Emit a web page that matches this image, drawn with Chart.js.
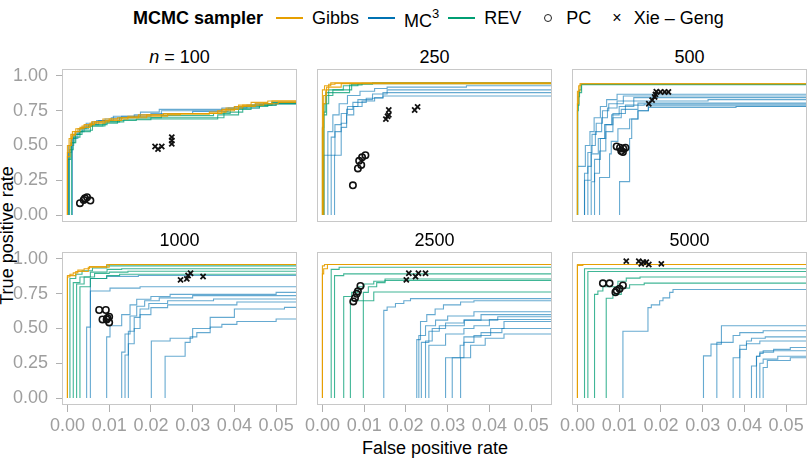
<!DOCTYPE html>
<html>
<head>
<meta charset="utf-8">
<script src="https://cdn.jsdelivr.net/npm/chart.js@4/dist/chart.umd.min.js"></script>
<style>
  body { margin: 0; background: #fff; width: 808px; height: 466px; overflow: hidden; position: relative;
         font-family: "Liberation Sans", Arial, sans-serif; }
  canvas { position: absolute; }
  .lbl { position: absolute; font-size: 18px; color: #000; white-space: nowrap; }
  .strip { position: absolute; font-size: 18px; text-align: center; width: 235px; }
  #legend { position: absolute; left: 133px; top: 6px; height: 24px; display: flex; align-items: center; font-size: 18px; white-space: nowrap; }
  #legend b { margin-right: 13px; }
  .key { display: inline-block; width: 27px; height: 2.5px; margin-right: 9px; }
  .item { margin-right: 9px; display: inline-flex; align-items: center; }
</style>
</head>
<body>
<div id="legend">
  <b>MCMC sampler</b>
  <span class="item"><span class="key" style="background:#E69F00"></span>Gibbs</span>
  <span class="item"><span class="key" style="background:#0072B2"></span><span style="position:relative;top:3px">MC</span><span style="position:relative;top:-5px;font-size:13px">3</span></span>
  <span class="item"><span class="key" style="background:#009E73"></span>REV</span>
  <span class="item" style="margin-left:14px"><span style="display:inline-block;width:6px;height:6px;border:1.5px solid #222;border-radius:50%;margin-right:14px"></span>PC</span>
  <span class="item" style="margin-left:12px"><span style="margin-right:12px;font-size:16px">×</span>Xie – Geng</span>
</div>
<div class="lbl" style="left:0;top:438px;width:870px;text-align:center">False positive rate</div>
<div class="lbl" style="left:-78px;top:225px;width:170px;text-align:center;transform:rotate(-90deg)">True positive rate</div>

<script>
// panel titles and axis ticks
const panelTitles = ['n = 100', '250', '500', '1000', '2500', '5000'];
const xTicks = [0, 0.01, 0.02, 0.03, 0.04, 0.05];
const yTicks = [0, 0.25, 0.5, 0.75, 1];

// ROC step curves, one list of curves per panel; each point = [fpr, tpr] where the curve rises
const gibbsCurves = [
  [[[0,0.42],[0.0006,0.5],[0.001,0.57],[0.0018,0.6],[0.003,0.63],[0.0054,0.66],[0.009,0.68],[0.013,0.7],[0.017,0.72],[0.023,0.73],[0.036,0.75],[0.04,0.78],[0.045,0.8],[0.049,0.82]],
   [[0,0.45],[0.0004,0.55],[0.0012,0.6],[0.0025,0.62],[0.004,0.65],[0.0065,0.67],[0.01,0.69],[0.0145,0.71],[0.024,0.725],[0.034,0.74],[0.038,0.77],[0.042,0.79],[0.047,0.8],[0.0505,0.81]],
   [[0,0.5],[0.0008,0.58],[0.002,0.62],[0.0035,0.64],[0.0058,0.67],[0.0085,0.69],[0.012,0.7],[0.019,0.72],[0.027,0.73],[0.037,0.76],[0.041,0.79],[0.044,0.81],[0.048,0.82]]],
  [[[0,0.62],[0.0002,0.8],[0.0008,0.9],[0.0015,0.94],[0.003,0.948]],
   [[0,0.9],[0.0005,0.93],[0.002,0.95]],
   [[0.0003,0.86],[0.001,0.92],[0.0045,0.945]]],
  [[[0,0.89],[0.0006,0.944]],
   [[0,0.8],[0.0003,0.93],[0.0008,0.944]]],
  [[[0,0.87],[0.0006,0.89],[0.0014,0.9],[0.0025,0.92],[0.004,0.93],[0.0053,0.945],[0.0094,0.96]],
   [[0,0.88],[0.002,0.91],[0.005,0.94],[0.01,0.96]]],
  [[[0,0.893],[0.0003,0.93],[0.0012,0.96]],
   [[0,0.95],[0.0005,0.96]]],
  [[[0,0.953],[0.0013,0.96]],
   [[0,0.96]]]
];

const mc3Curves = [
  [[[0.0002,0.45],[0.001,0.55],[0.002,0.6],[0.0035,0.63],[0.005,0.65],[0.0075,0.68],[0.011,0.71],[0.0175,0.74],[0.022,0.76],[0.04,0.78],[0.045,0.8],[0.049,0.81]],
   [[0.0003,0.5],[0.0015,0.58],[0.0028,0.62],[0.0045,0.66],[0.007,0.68],[0.0105,0.7],[0.016,0.72],[0.0225,0.75],[0.037,0.77],[0.043,0.79],[0.047,0.8]],
   [[0.0012,0.55],[0.0025,0.6],[0.004,0.64],[0.006,0.67],[0.009,0.69],[0.013,0.71],[0.02,0.73],[0.03,0.745],[0.0385,0.77],[0.046,0.79],[0.05,0.8]]],
  [[[0.0003,0.43],[0.0013,0.6],[0.0025,0.72],[0.004,0.8],[0.006,0.86],[0.009,0.89],[0.0125,0.91],[0.0155,0.92],[0.0345,0.93]],
   [[0.0013,0.43],[0.0021,0.56],[0.003,0.65],[0.0045,0.73],[0.006,0.78],[0.0085,0.83],[0.012,0.87],[0.0155,0.9]],
   [[0.0021,0.43],[0.003,0.6],[0.0045,0.66],[0.0058,0.76],[0.0073,0.81],[0.0105,0.84],[0.0145,0.88]],
   [[0.0029,0.43],[0.0045,0.63],[0.0058,0.72],[0.0075,0.78],[0.0095,0.82],[0.0125,0.845],[0.0145,0.856]]],
  [[[0,0.35],[0.0019,0.5],[0.003,0.6],[0.004,0.7],[0.0055,0.78],[0.007,0.83],[0.0095,0.868]],
   [[0.0017,0.3],[0.0025,0.45],[0.0035,0.58],[0.0045,0.66],[0.006,0.75],[0.0075,0.8],[0.011,0.856]],
   [[0.0025,0.35],[0.0033,0.5],[0.0043,0.6],[0.0058,0.7],[0.0072,0.77],[0.0095,0.82],[0.0135,0.844]],
   [[0.0033,0.239],[0.0041,0.4],[0.0055,0.55],[0.0068,0.65],[0.0082,0.72],[0.01,0.78],[0.0135,0.82],[0.0313,0.83]],
   [[0.0041,0.3],[0.0053,0.46],[0.0068,0.6],[0.0085,0.7],[0.0105,0.76],[0.0145,0.805]],
   [[0.0053,0.27],[0.0077,0.44],[0.0081,0.53],[0.0097,0.62],[0.0125,0.69],[0.0145,0.75],[0.017,0.785]],
   [[0.0101,0.24],[0.0125,0.55],[0.013,0.69],[0.0145,0.75],[0.017,0.773],[0.038,0.78]],
   [[0.0017,0.25],[0.0033,0.44],[0.005,0.55],[0.0065,0.65],[0.0085,0.73],[0.0115,0.79],[0.016,0.797]]],
  [[[0.0046,0.51],[0.0055,0.86],[0.0094,0.875],[0.017,0.881]],
   [[0.0055,0.77],[0.0102,0.79],[0.0174,0.8]],
   [[0.0094,0.44],[0.0102,0.52],[0.013,0.6],[0.015,0.67],[0.0166,0.71],[0.02,0.73],[0.0246,0.745],[0.05,0.76]],
   [[0.013,0.33],[0.0138,0.46],[0.015,0.59],[0.0166,0.66],[0.0185,0.7],[0.022,0.72],[0.03,0.736]],
   [[0.0138,0.31],[0.0146,0.48],[0.016,0.58],[0.0174,0.64],[0.0195,0.68],[0.024,0.7],[0.035,0.712]],
   [[0.0146,0.39],[0.016,0.5],[0.0174,0.6],[0.02,0.65],[0.024,0.67],[0.0406,0.69]],
   [[0.0234,0.3],[0.0282,0.4],[0.0294,0.44],[0.031,0.47],[0.0342,0.51],[0.037,0.53],[0.0406,0.55],[0.05,0.568]],
   [[0.0201,0.41],[0.0246,0.43],[0.03,0.5],[0.0342,0.58],[0.04,0.64],[0.052,0.652]]],
  [[[0.0147,0.63],[0.0155,0.655],[0.0175,0.68],[0.0195,0.7],[0.0211,0.715]],
   [[0.0226,0.42],[0.0235,0.55],[0.025,0.6],[0.027,0.64],[0.029,0.67],[0.0331,0.69],[0.0363,0.7]],
   [[0.0231,0.45],[0.0247,0.52],[0.0271,0.56],[0.03,0.59],[0.0363,0.62]],
   [[0.0237,0.4],[0.0255,0.48],[0.028,0.52],[0.034,0.56],[0.038,0.6]],
   [[0.0247,0.41],[0.0263,0.5],[0.0295,0.54],[0.0339,0.56],[0.042,0.585]],
   [[0.0255,0.38],[0.0295,0.46],[0.0339,0.5],[0.0363,0.52],[0.04,0.565]],
   [[0.0295,0.29],[0.033,0.38],[0.0339,0.44],[0.038,0.47],[0.0403,0.5],[0.0435,0.55]],
   [[0.0311,0.29],[0.0339,0.4],[0.0363,0.45],[0.0403,0.47],[0.043,0.5]],
   [[0.0331,0.29],[0.0355,0.38],[0.039,0.43],[0.0435,0.46]]],
  [[[0.0109,0.48],[0.0169,0.65],[0.0177,0.67],[0.0197,0.7],[0.0205,0.72],[0.0221,0.76],[0.0229,0.78]],
   [[0.0302,0.303],[0.032,0.388],[0.0345,0.52]],
   [[0.0334,0.4],[0.0373,0.45],[0.0389,0.47],[0.0445,0.484]],
   [[0.0373,0.29],[0.0389,0.35],[0.0405,0.41],[0.0417,0.43],[0.045,0.44]],
   [[0.0389,0.38],[0.0405,0.39],[0.0437,0.41]],
   [[0.0417,0.23],[0.0429,0.3],[0.0437,0.33],[0.047,0.35],[0.051,0.363]],
   [[0.0429,0.3],[0.0437,0.32],[0.0445,0.34]],
   [[0.0437,0.25],[0.0445,0.28],[0.048,0.3]],
   [[0.0445,0.22],[0.0455,0.27],[0.051,0.29]]]
];

const revCurves = [
  [[[0.0001,0.4],[0.0008,0.52],[0.0018,0.58],[0.003,0.62],[0.005,0.64],[0.0085,0.66],[0.012,0.68],[0.0165,0.69],[0.036,0.72],[0.041,0.77],[0.046,0.79],[0.05,0.8]],
   [[0.0005,0.47],[0.0014,0.56],[0.003,0.6],[0.0055,0.64],[0.009,0.67],[0.0135,0.685],[0.02,0.7],[0.0375,0.74],[0.042,0.78],[0.048,0.8]],
   [[0.001,0.52],[0.002,0.58],[0.0035,0.61],[0.006,0.65],[0.0095,0.67],[0.0125,0.7],[0.0225,0.715],[0.035,0.73],[0.039,0.76],[0.044,0.79],[0.049,0.81]]],
  [[[0,0.63],[0.0003,0.74],[0.0008,0.88],[0.0065,0.935],[0.0095,0.948]],
   [[0.0002,0.72],[0.001,0.86],[0.0025,0.9],[0.007,0.94],[0.012,0.95]],
   [[0.0004,0.8],[0.0015,0.9],[0.005,0.93],[0.0085,0.945]]],
  [[[0,0.75],[0.0002,0.85],[0.0005,0.9],[0.0009,0.94]],
   [[0.0001,0.79],[0.0004,0.88],[0.001,0.938]]],
  [[[0.0006,0.86],[0.002,0.89],[0.0035,0.915],[0.006,0.935],[0.0094,0.95]],
   [[0.0014,0.83],[0.003,0.87],[0.0055,0.905],[0.0095,0.925],[0.013,0.93]],
   [[0.0022,0.82],[0.004,0.87],[0.0065,0.895],[0.01,0.905],[0.0145,0.912]],
   [[0.003,0.8],[0.0055,0.86],[0.0094,0.88],[0.0125,0.89]]],
  [[[0.0021,0.925],[0.004,0.94]],
   [[0.0029,0.88],[0.0051,0.893]],
   [[0.0051,0.73],[0.007,0.76],[0.0085,0.8],[0.01,0.82],[0.0123,0.84],[0.015,0.856]],
   [[0.0067,0.7],[0.0123,0.762]],
   [[0.0098,0.76],[0.011,0.8],[0.013,0.83],[0.015,0.845]]],
  [[[0.0017,0.93]],
   [[0.0025,0.91]],
   [[0.0041,0.745],[0.0049,0.77],[0.0061,0.8],[0.0097,0.84],[0.0117,0.862],[0.015,0.87]],
   [[0.0069,0.717],[0.0085,0.745],[0.0105,0.79],[0.0125,0.815],[0.016,0.826]]]
];

// point estimates, [fpr, tpr]
const pcPoints = [
  [[0.003,0.085],[0.0039,0.109],[0.0042,0.12],[0.0047,0.128],[0.0055,0.104]],
  [[0.0073,0.214],[0.0085,0.335],[0.0093,0.36],[0.0088,0.39],[0.0095,0.415],[0.0103,0.43]],
  [[0.0094,0.493],[0.0102,0.484],[0.011,0.477],[0.0115,0.484],[0.0105,0.46],[0.0109,0.453]],
  [[0.0076,0.633],[0.0092,0.633],[0.0084,0.565],[0.0094,0.565],[0.01,0.585],[0.01,0.544],[0.0096,0.575]],
  [[0.0074,0.695],[0.0078,0.72],[0.0082,0.749],[0.0085,0.767],[0.0091,0.806]],
  [[0.0061,0.825],[0.0077,0.825],[0.0091,0.76],[0.0094,0.773],[0.0101,0.785],[0.0109,0.809]]
];
const xieGengPoints = [
  [[0.021,0.493],[0.0217,0.474],[0.0226,0.493],[0.025,0.56],[0.025,0.536],[0.025,0.512]],
  [[0.0152,0.69],[0.0159,0.72],[0.0159,0.755],[0.0156,0.71],[0.0221,0.755],[0.0228,0.778]],
  [[0.0171,0.8],[0.0179,0.826],[0.0185,0.849],[0.0187,0.868],[0.0189,0.887],[0.0199,0.885],[0.0209,0.885],[0.0218,0.885]],
  [[0.0271,0.85],[0.0286,0.857],[0.0289,0.881],[0.0295,0.897],[0.0325,0.874]],
  [[0.0201,0.85],[0.0207,0.897],[0.0223,0.874],[0.023,0.897],[0.0247,0.897]],
  [[0.0117,0.984],[0.0147,0.984],[0.0153,0.965],[0.0158,0.977],[0.0165,0.977],[0.0171,0.96],[0.0201,0.965]]
];

const X_MIN = -0.0013, X_MAX = 0.0550, X_END = 0.06;
const Y_MIN = -0.05, Y_MAX = 1.05;
const colLeft = [62, 317, 572], rowTop = [69, 252];
const PW = 235, PH = 153, PAD = 16, YAXW = 62, XAXH = 40;
const tickFont = { family: '"Liberation Sans", Arial, sans-serif', size: 18 };

// corners of a ROC staircase: up at each fpr, then across to the next
function stepPoints(curve) {
  const pts = [{ x: curve[0][0], y: 0 }];
  curve.forEach(([x, y], i) => {
    if (i > 0) pts.push({ x: x, y: curve[i - 1][1] });
    pts.push({ x: x, y: y });
  });
  pts.push({ x: X_END, y: curve[curve.length - 1][1] });
  return pts;
}

function lineSets(curves, color) {
  return curves.map(c => ({
    type: 'line', data: stepPoints(c), borderColor: color, borderWidth: 1.1,
    pointRadius: 0, tension: 0, fill: false, clip: 0
  }));
}

const panelBorder = {
  id: 'panelBorder',
  afterDraw(chart) {
    const a = chart.chartArea, ctx = chart.ctx;
    ctx.save();
    ctx.strokeStyle = '#c8c8c8';
    ctx.lineWidth = 1;
    ctx.strokeRect(a.left + 0.5, a.top + 0.5, a.right - a.left - 1, a.bottom - a.top - 1);
    ctx.restore();
  }
};

panelTitles.forEach((title, p) => {
  const r = Math.floor(p / 3), c = p % 3;
  const showY = c === 0, showX = r === 1;

  const strip = document.createElement('div');
  strip.className = 'strip';
  strip.style.left = colLeft[c] + 'px';
  strip.style.top = (rowTop[r] - 22) + 'px';
  strip.innerHTML = p === 0 ? '<i>n</i> = 100' : title;
  document.body.appendChild(strip);

  const cv = document.createElement('canvas');
  const w = PW + 2 * PAD + (showY ? YAXW : 0);
  const h = PH + 2 * PAD + (showX ? XAXH : 0);
  cv.width = w; cv.height = h;
  cv.style.left = (colLeft[c] - PAD - (showY ? YAXW : 0)) + 'px';
  cv.style.top = (rowTop[r] - PAD) + 'px';
  document.body.appendChild(cv);

  const datasets = [
    { data: xieGengPoints[p].map(([x, y]) => ({ x, y })), pointStyle: 'crossRot', pointRadius: 3.6,
      borderColor: '#111', backgroundColor: '#111', pointBorderWidth: 1.8 },
    { data: pcPoints[p].map(([x, y]) => ({ x, y })), pointStyle: 'circle', pointRadius: 3.2,
      borderColor: '#111', backgroundColor: 'rgba(0,0,0,0)', pointBorderWidth: 1.6 },
    ...lineSets(gibbsCurves[p], 'rgba(230,159,0,0.9)'),
    ...lineSets(revCurves[p], 'rgba(0,158,115,0.75)'),
    ...lineSets(mc3Curves[p], 'rgba(0,114,178,0.6)')
  ];

  new Chart(cv, {
    type: 'scatter',
    data: { datasets },
    options: {
      responsive: false,
      animation: false,
      events: [],
      layout: { padding: PAD },
      plugins: { legend: { display: false }, tooltip: { enabled: false } },
      scales: {
        x: {
          type: 'linear', min: X_MIN, max: X_MAX, display: showX,
          afterBuildTicks: s => { s.ticks = xTicks.map(v => ({ value: v })); },
          afterFit: s => { if (showX) { s.height = XAXH; s.paddingLeft = 0; s.paddingRight = 0; } },
          grid: { drawOnChartArea: false, tickLength: 7, color: '#b0b0b0' },
          border: { display: false },
          ticks: { font: tickFont, color: '#9e9e9e', padding: 3, autoSkip: false, maxRotation: 0, minRotation: 0,
                   callback: v => v.toFixed(2) }
        },
        y: {
          type: 'linear', min: Y_MIN, max: Y_MAX, display: showY,
          afterBuildTicks: s => { s.ticks = yTicks.map(v => ({ value: v })); },
          afterFit: s => { if (showY) { s.width = YAXW; s.paddingTop = 0; s.paddingBottom = 0; } },
          grid: { drawOnChartArea: false, tickLength: 6, color: '#b0b0b0' },
          border: { display: false },
          ticks: { font: tickFont, color: '#9e9e9e', padding: 8, callback: v => v.toFixed(2) }
        }
      }
    },
    plugins: [panelBorder]
  });
});
</script>
</body>
</html>
